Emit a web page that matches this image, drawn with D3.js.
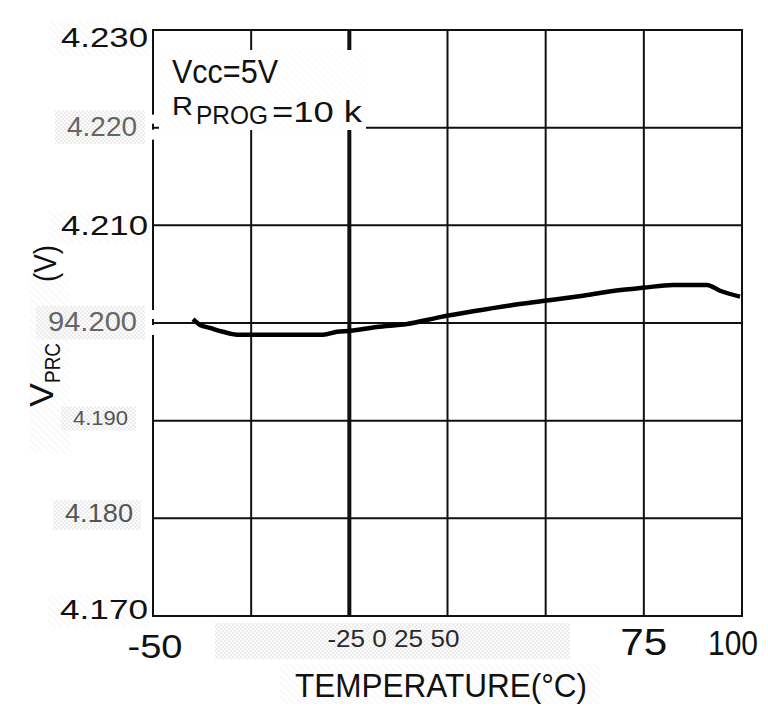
<!DOCTYPE html>
<html>
<head>
<meta charset="utf-8">
<script src="https://cdn.jsdelivr.net/npm/d3@7"></script>
<style>
  html, body { margin: 0; padding: 0; background: #fff; }
  svg { display: block; font-family: "Liberation Sans", Arial, sans-serif; }
</style>
</head>
<body>
<div id="chart"></div>
<script>
"use strict";
// data
const temps = [-39.8, -38.0, -35.5, -32.2, -28.6, -17.7, -6.7, -3.1, 0.2, 7.0, 14.7, 23.1,
  31.5, 40.9, 50.3, 59.5, 69.7, 74.8, 82.4, 91.1, 94.4, 99.5];
const vprc = [4.2004, 4.1998, 4.1995, 4.1991, 4.1988, 4.1988, 4.1988, 4.1991, 4.1992, 4.1996,
  4.1999, 4.2006, 4.2012, 4.2018, 4.2023, 4.2028, 4.2034, 4.2036, 4.2039, 4.2039, 4.2033, 4.2027];
const xTicks = [-50, -25, 0, 25, 50, 75, 100];
const yTicks = [4.17, 4.18, 4.19, 4.20, 4.21, 4.22, 4.23];
const yTickLabels = ["4.170", "4.180", "4.190", "94.200", "4.210", "4.220", "4.230"];
const xEdgeLabels = ["-50", "75", "100"];
const xEdgeValues = [-50, 75, 100];
const xMidLabel = "-25 0 25 50";

const W = 768, H = 706;
const svg = d3.select('#chart').append('svg').attr('width', W).attr('height', H);
svg.append('rect').attr('width', W).attr('height', H).attr('fill', '#fff');

const x = d3.scaleLinear().domain([-50, 100]).range([153, 742]);
const y = d3.scaleLinear().domain([4.17, 4.23]).range([616, 30]);

// faint scan hatching behind some labels
const defs = svg.append('defs');
defs.append('pattern').attr('id', 'hatch').attr('width', 5).attr('height', 5)
  .attr('patternUnits', 'userSpaceOnUse').attr('patternTransform', 'rotate(-45)')
  .append('line').attr('x1', 0).attr('y1', 0).attr('x2', 0).attr('y2', 5)
  .attr('stroke', '#eeeeee').attr('stroke-width', 1.2);
defs.append('pattern').attr('id', 'check').attr('width', 4).attr('height', 4)
  .attr('patternUnits', 'userSpaceOnUse')
  .call(p => {
    p.append('rect').attr('width', 4).attr('height', 4).attr('fill', '#fcfcfc');
    p.append('rect').attr('width', 2).attr('height', 2).attr('fill', '#ececec');
    p.append('rect').attr('x', 2).attr('y', 2).attr('width', 2).attr('height', 2).attr('fill', '#ececec');
  });

// grid
const grid = svg.append('g').attr('class', 'grid');
grid.selectAll('line.v').data(xTicks).enter().append('line')
  .attr('x1', d => x(d)).attr('x2', d => x(d))
  .attr('y1', y(4.23)).attr('y2', y(4.17))
  .attr('stroke', '#111')
  .attr('stroke-width', d => d === 0 ? 4 : 2);
grid.selectAll('line.h').data(yTicks).enter().append('line')
  .attr('x1', x(-50)).attr('x2', x(100))
  .attr('y1', d => y(d)).attr('y2', d => y(d))
  .attr('stroke', '#111').attr('stroke-width', 2);

// label backdrops (scan artefacts)
const yStyle = [
  { size: 28, fill: '#111', right: 148, dy: 3, len: 88, box: 'hatch' },
  { size: 25, fill: '#555', right: 133, dy: 4, len: 68, box: 'check' },
  { size: 20, fill: '#555', right: 128, dy: 4, len: 55, box: 'check' },
  { size: 28, fill: '#666', right: 137, dy: 8, len: 89, box: 'check' },
  { size: 28, fill: '#111', right: 148, dy: 10, len: 87, box: 'hatch' },
  { size: 28, fill: '#666', right: 137, dy: 8, len: 70, box: 'check' },
  { size: 28, fill: '#111', right: 148, dy: 17, len: 87, box: 'hatch' }
];
const back = svg.append('g').attr('class', 'backs');
back.selectAll('rect').data(yTicks).enter().append('rect')
  .attr('x', (d, i) => yStyle[i].right - yStyle[i].len - 12)
  .attr('y', (d, i) => y(d) + yStyle[i].dy - yStyle[i].size * 0.9)
  .attr('width', (d, i) => yStyle[i].len + (yStyle[i].box === 'check' ? 20 : 14))
  .attr('height', (d, i) => yStyle[i].size * 1.2)
  .attr('fill', (d, i) => 'url(#' + yStyle[i].box + ')');
back.append('rect')
  .attr('x', x(-50) + 62).attr('y', y(4.17) + 7).attr('width', 355).attr('height', 36)
  .attr('fill', 'url(#check)');
back.append('rect')
  .attr('x', 30).attr('y', y(4.205)).attr('width', 40).attr('height', 180)
  .attr('fill', 'url(#hatch)');
back.append('rect')
  .attr('x', 280).attr('y', 664).attr('width', 320).attr('height', 40)
  .attr('fill', 'url(#hatch)');

// white box under the annotation
svg.append('rect')
  .attr('x', x(-50) + 6).attr('y', y(4.23) + 20)
  .attr('width', 207).attr('height', 80)
  .attr('fill', '#fff');
svg.append('rect')
  .attr('x', x(-50) + 6).attr('y', y(4.23) + 20)
  .attr('width', 207).attr('height', 80)
  .attr('fill', 'url(#hatch)').attr('opacity', 0.6);

// frame
svg.append('rect')
  .attr('x', x(-50)).attr('y', y(4.23))
  .attr('width', x(100) - x(-50)).attr('height', y(4.17) - y(4.23))
  .attr('fill', 'none').attr('stroke', '#111').attr('stroke-width', 2);

// gaps in the left axis behind the grey labels
svg.selectAll('rect.gap').data([4.22, 4.20]).enter().append('rect')
  .attr('x', x(-50) - 2).attr('y', d => y(d) - 13).attr('width', 4).attr('height', 9)
  .attr('fill', '#fff');
svg.selectAll('rect.gap2').data([4.22, 4.20]).enter().append('rect')
  .attr('x', x(-50) - 2).attr('y', d => y(d) + 2).attr('width', 4).attr('height', 10)
  .attr('fill', '#fff');

// curve
const pts = temps.map((t, i) => [t, vprc[i]]);
svg.append('path')
  .datum(pts)
  .attr('fill', 'none').attr('stroke', '#000').attr('stroke-width', 4.5)
  .attr('stroke-linejoin', 'round')
  .attr('d', d3.line().x(d => x(d[0])).y(d => y(d[1])).curve(d3.curveMonotoneX));

// y tick labels
svg.append('g').selectAll('text').data(yTicks).enter().append('text')
  .attr('x', (d, i) => yStyle[i].right)
  .attr('y', (d, i) => y(d) + yStyle[i].dy)
  .attr('text-anchor', 'end')
  .attr('font-size', (d, i) => yStyle[i].size)
  .attr('fill', (d, i) => yStyle[i].fill)
  .attr('textLength', (d, i) => yStyle[i].len)
  .attr('lengthAdjust', 'spacingAndGlyphs')
  .text((d, i) => yTickLabels[i]);

// x tick labels
const xStyle = [
  { size: 34, dx: 2, dy: 42, len: 55 },
  { size: 36, dx: 0, dy: 39, len: 47 },
  { size: 35, dx: -9, dy: 39, len: 50 }
];
svg.append('g').selectAll('text').data(xEdgeValues).enter().append('text')
  .attr('x', (d, i) => x(d) + xStyle[i].dx)
  .attr('y', (d, i) => y(4.17) + xStyle[i].dy)
  .attr('text-anchor', 'middle')
  .attr('font-size', (d, i) => xStyle[i].size)
  .attr('fill', '#111')
  .attr('textLength', (d, i) => xStyle[i].len)
  .attr('lengthAdjust', 'spacingAndGlyphs')
  .text((d, i) => xEdgeLabels[i]);
svg.append('text')
  .attr('x', (x(-25) + x(50)) / 2 - 5).attr('y', y(4.17) + 31)
  .attr('text-anchor', 'middle').attr('font-size', 23).attr('fill', '#2a2a2a')
  .attr('textLength', 132).attr('lengthAdjust', 'spacingAndGlyphs')
  .text(xMidLabel);

// axis titles
svg.append('text')
  .attr('x', 441).attr('y', 697)
  .attr('text-anchor', 'middle').attr('font-size', 34).attr('fill', '#111')
  .attr('textLength', 292).attr('lengthAdjust', 'spacingAndGlyphs')
  .text('TEMPERATURE(°C)');

const yt = svg.append('g').attr('transform', 'translate(53,407) rotate(-90)');
yt.append('text').attr('x', 0).attr('y', 0).attr('font-size', 33).attr('fill', '#111')
  .attr('textLength', 24).attr('lengthAdjust', 'spacingAndGlyphs').text('V');
yt.append('text').attr('x', 24).attr('y', 7).attr('font-size', 22).attr('fill', '#111')
  .attr('textLength', 40).attr('lengthAdjust', 'spacingAndGlyphs').text('PRC');
yt.append('text').attr('x', 125).attr('y', 3).attr('font-size', 32).attr('fill', '#111')
  .attr('textLength', 37).attr('lengthAdjust', 'spacingAndGlyphs').text('(V)');

// annotation
const note = svg.append('g').attr('fill', '#111');
note.append('text').attr('x', 172).attr('y', 83).attr('font-size', 34)
  .attr('textLength', 106).attr('lengthAdjust', 'spacingAndGlyphs').text('Vcc=5V');
note.append('text').attr('x', 172).attr('y', 115).attr('font-size', 26)
  .attr('textLength', 21).attr('lengthAdjust', 'spacingAndGlyphs').text('R');
note.append('text').attr('x', 196).attr('y', 124).attr('font-size', 25)
  .attr('textLength', 72).attr('lengthAdjust', 'spacingAndGlyphs').text('PROG');
note.append('text').attr('x', 272).attr('y', 122).attr('font-size', 29)
  .attr('textLength', 90).attr('lengthAdjust', 'spacingAndGlyphs').text('=10 k');
</script>
</body>
</html>
